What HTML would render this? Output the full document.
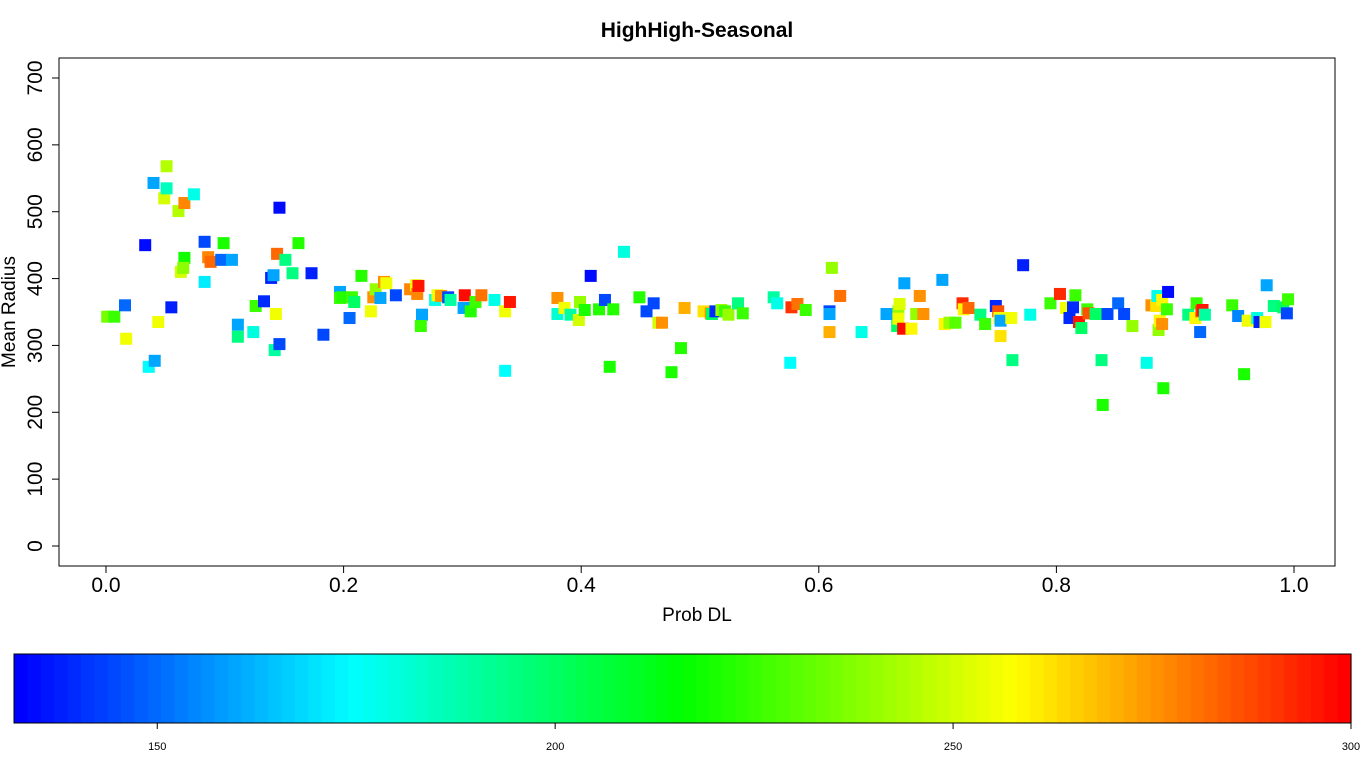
<!DOCTYPE html>
<html><head><meta charset="utf-8"><style>
body{margin:0;background:#fff;}
svg{display:block;font-family:"Liberation Sans",sans-serif;}
</style></head><body>
<svg id="chart" width="1366" height="768" xmlns="http://www.w3.org/2000/svg">
<text x="697" y="37" text-anchor="middle" font-size="21" font-weight="bold">HighHigh-Seasonal</text>
<rect x="59" y="58" width="1276" height="508" fill="none" stroke="#000" stroke-width="1"/>
<g id="xaxis"></g>
<g id="yaxis"></g>
<text x="697" y="621" text-anchor="middle" font-size="19">Prob DL</text>
<text transform="translate(15,312) rotate(-90)" text-anchor="middle" font-size="19">Mean Radius</text>
<g id="points"></g>
<g id="cbar"></g>
</svg>
<script>
const xTicks=[0,0.2,0.4,0.6,0.8,1.0];
const xTickLabels=["0.0","0.2","0.4","0.6","0.8","1.0"];
const yTicks=[0,100,200,300,400,500,600,700];
const cbTicks=[150,200,250,300];
const cbMin=132, cbMax=300;
const probDL=[.001,.007,.016,.017,.033,.036,.040,.041,.044,.049,.051,.051,.055,.061,.063,.066,.066,.065,.074,.083,.083,.086,.088,.097,.099,.106,.111,.111,.124,.126,.133,.139,.141,.143,.144,.142,.146,.146,.151,.157,.162,.173,.183,.197,.197,.199,.205,.207,.209,.215,.223,.225,.227,.231,.234,.236,.244,.256,.261,.262,.263,.266,.265,.277,.279,.282,.288,.290,.301,.302,.307,.311,.316,.327,.336,.336,.340,.380,.380,.386,.391,.398,.399,.403,.408,.415,.420,.427,.424,.436,.449,.455,.461,.465,.468,.476,.484,.487,.503,.509,.510,.513,.518,.521,.524,.532,.536,.562,.565,.576,.577,.582,.589,.609,.609,.609,.611,.618,.636,.657,.666,.667,.667,.668,.671,.672,.678,.682,.685,.688,.704,.706,.710,.715,.721,.722,.726,.736,.740,.749,.751,.752,.753,.753,.762,.763,.772,.778,.795,.803,.808,.811,.814,.816,.819,.821,.826,.827,.833,.838,.839,.843,.852,.857,.864,.876,.880,.884,.885,.886,.887,.889,.889,.890,.894,.893,.911,.917,.918,.921,.922,.923,.925,.948,.953,.958,.961,.969,.971,.977,.976,.983,.991,.994,.995];
const meanRadius=[343,343,360,310,450,268,543,277,335,520,568,535,357,501,410,513,431,416,526,455,395,432,425,428,453,428,331,313,320,359,366,401,405,347,437,293,506,302,428,408,453,408,316,380,371,372,341,372,365,404,351,372,384,371,395,393,375,384,390,377,389,346,329,368,375,374,372,368,356,375,351,365,375,368,262,351,365,371,347,356,346,338,365,353,404,354,368,354,268,440,372,351,363,334,334,260,296,356,351,348,347,351,353,351,346,363,348,372,363,274,357,362,353,351,347,320,416,374,320,347,329,351,340,362,325,393,325,347,374,347,398,332,334,334,363,354,356,346,332,359,351,341,314,337,341,278,420,346,363,377,356,341,357,375,335,326,354,348,347,278,211,347,363,347,329,274,360,359,374,323,337,368,332,236,380,354,346,341,363,320,351,353,346,360,344,257,337,341,335,390,335,359,357,348,369];
const colorVal=[235,225,150,255,135,175,160,160,255,250,245,185,138,245,250,278,218,238,178,145,172,278,282,150,220,160,160,195,180,225,140,138,160,255,282,190,135,145,195,195,222,138,145,160,225,222,150,225,200,222,255,275,240,160,275,255,145,278,255,278,295,160,225,178,255,275,145,190,160,298,222,225,280,178,175,255,295,275,182,255,190,250,240,220,135,222,145,222,220,180,222,145,145,250,275,220,222,270,262,275,200,140,240,225,240,195,225,190,178,175,290,280,225,145,160,270,240,280,178,160,200,240,255,252,298,160,258,240,275,275,160,258,240,230,292,258,282,195,225,140,285,255,262,160,255,195,138,178,225,292,255,140,140,225,295,200,225,285,200,195,220,145,150,145,240,178,275,262,178,240,258,258,275,220,135,225,195,258,225,150,285,295,190,225,155,220,255,180,138,160,255,195,200,145,225];

const NS="http://www.w3.org/2000/svg";
const X0=106,X1=1294,Y0=546,Y1=78;
function sx(v){return X0+(X1-X0)*v;}
function sy(v){return Y0-(Y0-Y1)*v/700;}
const stops=[[0,0,255],[0,255,255],[0,255,0],[255,255,0],[255,0,0]];
function col(v){let t=(v-cbMin)/(cbMax-cbMin);t=Math.max(0,Math.min(1,t));
 const n=100;t=Math.min(n-1,Math.floor(t*n))/(n-1);
 const p=t*4,i=Math.min(3,Math.floor(p)),f=p-i,a=stops[i],b=stops[i+1];
 return `rgb(${Math.round(a[0]+(b[0]-a[0])*f)},${Math.round(a[1]+(b[1]-a[1])*f)},${Math.round(a[2]+(b[2]-a[2])*f)})`;}
function mk(tag,attrs,parent,txt){const e=document.createElementNS(NS,tag);for(const k in attrs)e.setAttribute(k,attrs[k]);if(txt!=null)e.textContent=txt;parent.appendChild(e);return e;}
const xa=document.getElementById('xaxis');
mk('line',{x1:sx(0),x2:sx(1),y1:566,y2:566,stroke:'#000'},xa);
xTicks.forEach((v,i)=>{
 const l=mk('line',{x1:sx(v),x2:sx(v),y1:566,y2:573,stroke:'#000'},xa);
 
 
 const t=mk('text',{x:sx(v),y:592,'text-anchor':'middle','font-size':21},xa,xTickLabels[i]);
 
 
});
const ya=document.getElementById('yaxis');
mk('line',{x1:59,x2:59,y1:sy(0),y2:sy(700),stroke:'#000'},ya);
yTicks.forEach(v=>{
 const l=mk('line',{x1:52,x2:59,y1:sy(v),y2:sy(v),stroke:'#000'},ya);
 
 
 const t=mk('text',{x:0,y:0,'text-anchor':'middle','font-size':21,transform:`translate(42,${sy(v)}) rotate(-90)`},ya,String(v));
 
 
});
const pg=document.getElementById('points');
probDL.forEach((x,i)=>{
 const r=mk('rect',{x:sx(x)-6,y:sy(meanRadius[i])-6,width:12,height:12,fill:col(colorVal[i])},pg);
 
 
});
const cb=document.getElementById('cbar');
const CB0=14,CB1=1351,CBT=654,CBB=723;
const n=100,w=(CB1-CB0)/n;
for(let i=0;i<n;i++){
 const v=cbMin+(cbMax-cbMin)*(i+0.5)/n;
 const r=mk('rect',{x:CB0+i*w,y:CBT,width:w+0.6,height:CBB-CBT,fill:col(v)},cb);
 
 
}
mk('rect',{x:CB0,y:CBT,width:CB1-CB0,height:CBB-CBT,fill:'none',stroke:'#000'},cb);
function cx(v){return CB0+(CB1-CB0)*(v-cbMin)/(cbMax-cbMin);}
cbTicks.forEach(v=>{
 const l=mk('line',{x1:cx(v),x2:cx(v),y1:CBB,y2:CBB+6,stroke:'#000'},cb);
 
 
 const t=mk('text',{x:cx(v),y:750,'text-anchor':'middle','font-size':11},cb,String(v));
 
 
});
</script>
</body></html>
